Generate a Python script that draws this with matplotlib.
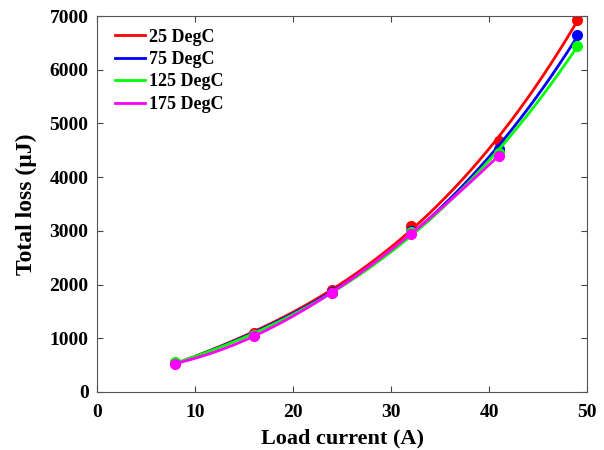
import numpy as np
import matplotlib.pyplot as plt

# Load current (A) and total loss (uJ)
current = [8, 16, 24, 32, 41, 49]
loss_25 = [540, 1090, 1900, 3090, 4680, 6930]
loss_75 = [540, 1070, 1870, 3000, 4520, 6640]
loss_125 = [550, 1060, 1850, 2970, 4450, 6450]
current_175 = [8, 16, 24, 32, 41]
loss_175 = [530, 1050, 1840, 2950, 4400]

labels = ['25 DegC', '75 DegC', '125 DegC', '175 DegC']
colors = ['#ff0000', '#0000ff', '#00ff00', '#ff00ff']

plt.rcParams['font.family'] = ['Liberation Serif', 'DejaVu Serif']
plt.rcParams['font.weight'] = 'bold'

fig = plt.figure(figsize=(6.04, 4.5), dpi=100)
ax = fig.add_axes([0.1606, 0.1289, 0.8114, 0.8355])

series = [(current, loss_25), (current, loss_75),
          (current, loss_125), (current_175, loss_175)]

for (x, y), lab, c in zip(series, labels, colors):
    # smooth fitted curve through the measured points, like the original
    coef = np.polyfit(x, y, 3)
    xs = np.linspace(x[0], x[-1], 200)
    ax.plot(xs, np.polyval(coef, xs), color=c, lw=2, label=lab)
    ax.plot(x, y, 'o', color=c, ms=7)

ax.set_xlim(0, 50)
ax.set_ylim(0, 7000)
ax.set_xticks(np.arange(0, 51, 10))
ax.set_yticks(np.arange(0, 7001, 1000))
ax.tick_params(direction='in', top=True, right=True, labelsize=14,
               color='#444444', length=4)
ax.tick_params(axis='x', pad=9)
ax.tick_params(axis='y', pad=6)
for s in ax.spines.values():
    s.set_color('#555555')
    s.set_linewidth(0.8)

ax.set_xlabel('Load current (A)', fontsize=16, fontweight='bold', labelpad=5)
ax.set_ylabel('Total loss (\u00b5J)', fontsize=17, fontweight='bold', labelpad=9)

leg = ax.legend(loc='upper left', frameon=False, fontsize=13,
                handlelength=1.7, handletextpad=0.2, labelspacing=0.3,
                borderaxespad=0.3, bbox_to_anchor=(0.01, 1.0))

fig.savefig('out.png', dpi=100)
